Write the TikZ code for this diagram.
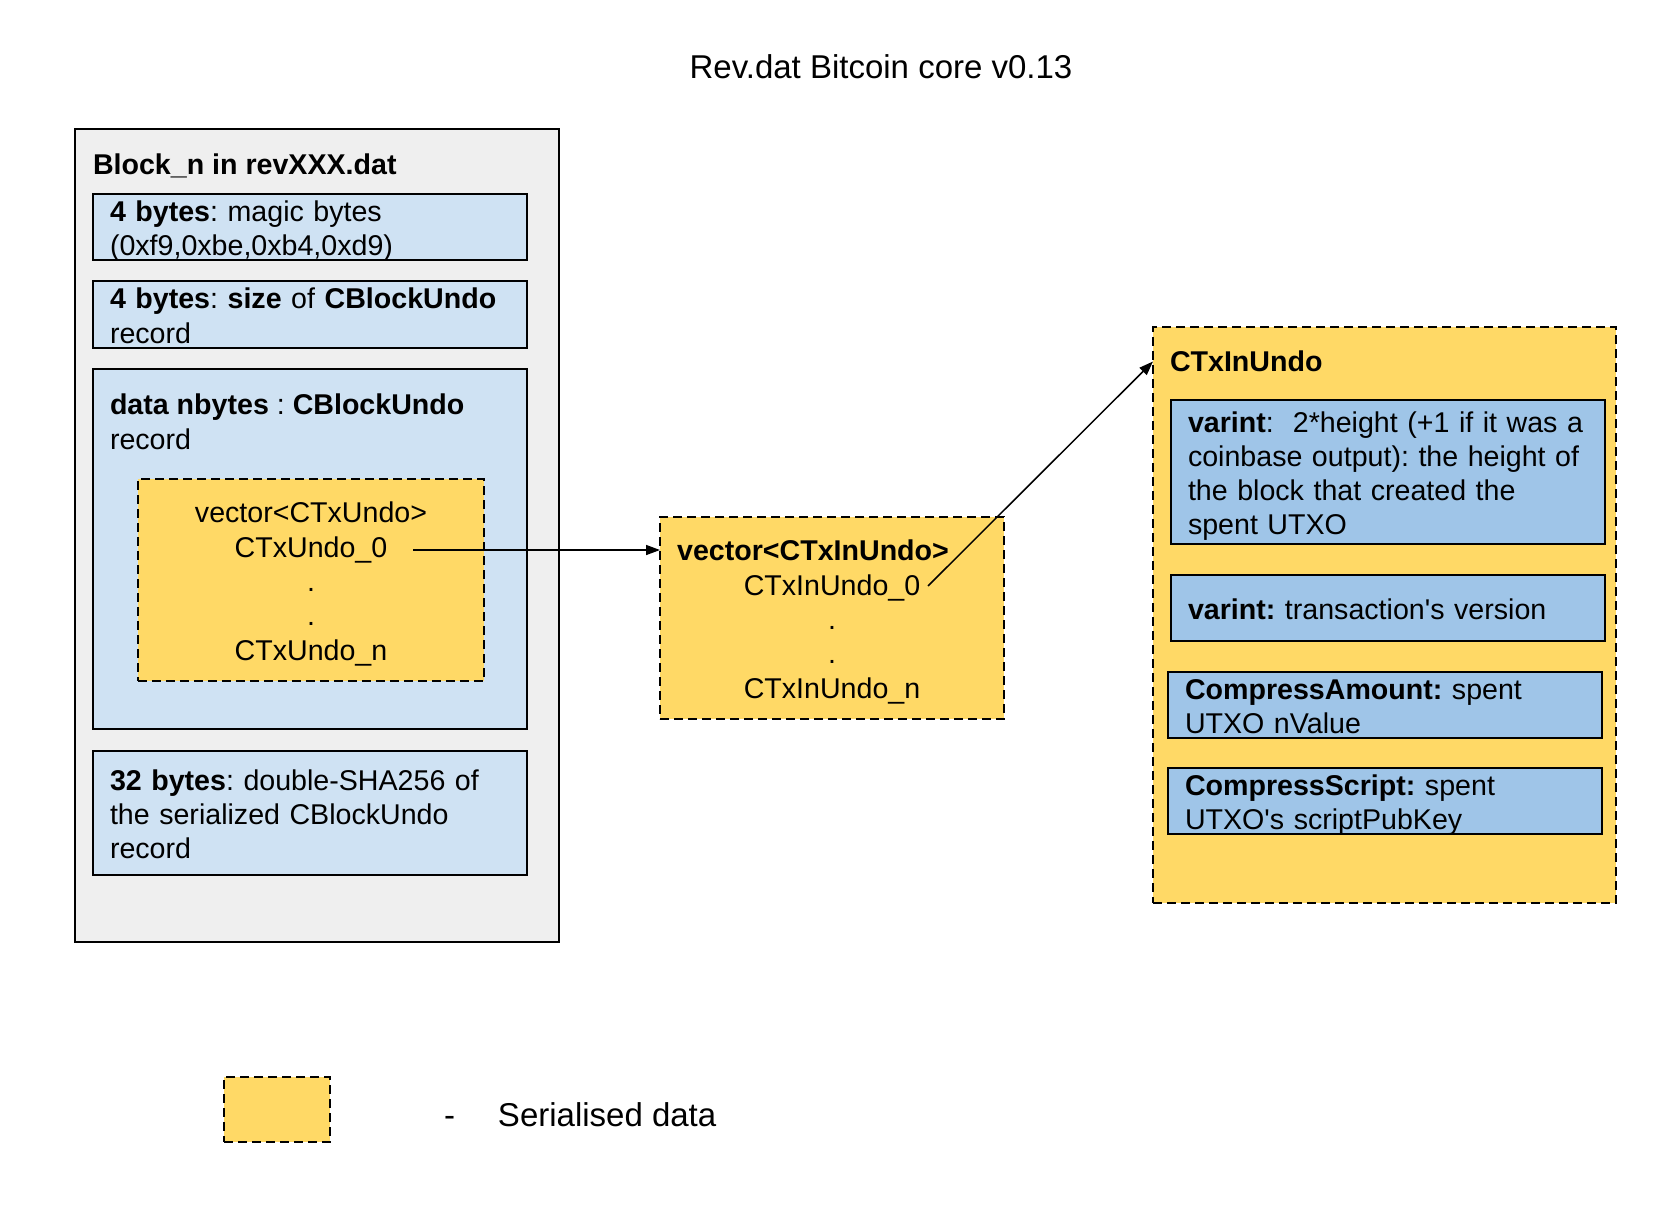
\documentclass[tikz,border=0pt]{standalone}
\usepackage{fontspec}
\setmainfont{Liberation Sans}
\usetikzlibrary{positioning,arrows.meta,calc}
\frenchspacing
\definecolor{greybg}{HTML}{EFEFEF}
\definecolor{bluelight}{HTML}{CFE2F3}
\definecolor{bluemid}{HTML}{9FC5E8}
\definecolor{serialfill}{HTML}{FFD966}
\newcommand{\txt}{\fontsize{28.6}{34.3}\selectfont}
\newcommand{\bigtxt}{\fontsize{33}{40}\selectfont}
\newcommand{\topline}{\rule{0pt}{31pt}}
\newcommand{\botline}{\rule[-8pt]{0pt}{8pt}}

\begin{document}
\begin{tikzpicture}[
  x=1pt, y=-1pt,
  every node/.style={outer sep=0pt},
  field/.style={draw, line width=1.5pt, fill=bluelight, align=left, font=\txt,
                text width=400pt, inner xsep=17pt, inner ysep=-5pt, minimum width=434pt,
                execute at begin node=\topline, execute at end node=\botline},
  subfield/.style={field, fill=bluemid},
  holder/.style={draw, line width=1.5pt, fill=greybg},
  serial/.style={draw, line width=1.5pt, dash pattern=on 9pt off 5pt, fill=serialfill,
                 align=center, font=\txt, inner sep=0pt},
  list/.style={serial, text width=#1, minimum width=#1, minimum height=202pt,
               execute at begin node=\topline, execute at end node=\botline},
  heading/.style={font=\txt\bfseries, anchor=north west, inner sep=0pt, align=left},
  arr/.style={-{Triangle[length=14pt,width=10pt]}, line width=1.5pt}
]
\path[use as bounding box, fill=white] (0,0) rectangle (1664,1222);
\node[font=\bigtxt] (title) at (881,67) {Rev.dat Bitcoin core v0.13};

% one block in the rev file
\node[holder, anchor=north west, minimum width=484pt, minimum height=813pt] (block) at (75,129) {};
\node[heading] (blocktitle) at ($(block.north west)+(18,25)$) {Block\_n in revXXX.dat};
\node[field, anchor=north west, minimum height=66pt] (magic) at (93,194)
  {\textbf{4 bytes}: magic bytes\\(0xf9,0xbe,0xb4,0xd9)};
\node[field, minimum height=67pt, below=21pt of magic] (size)
  {\textbf{4 bytes}: \textbf{size} of \textbf{CBlockUndo}\\record};
\node[field, minimum height=360pt, below=21pt of size] (data) {};
\node[heading, font=\txt] (datatitle) at ($(data.north west)+(17,25)$)
  {\textbf{data nbytes} : \textbf{CBlockUndo}\\record};
\node[list=346pt, anchor=north west] (txundo) at ($(data.north west)+(45,110)$)
  {vector<CTxUndo>\\CTxUndo\_0\\.\\.\\CTxUndo\_n};
\node[field, minimum height=124pt, below=22pt of data] (hash)
  {\textbf{32 bytes}: double-SHA256 of\\the serialized CBlockUndo\\record};

% vector of inputs
\node[list=344pt, anchor=north west] (inundo) at (660,517)
  {\textbf{vector<CTxInUndo>}\rule{38pt}{0pt}\\CTxInUndo\_0\\.\\.\\CTxInUndo\_n};

% one input undo record
\node[serial, anchor=north west, minimum width=463pt, minimum height=576pt] (ctxin) at (1153,327) {};
\node[heading] (ctxintitle) at ($(ctxin.north west)+(17,24)$) {CTxInUndo};
\node[subfield, anchor=north west, minimum height=144pt] (height) at ($(ctxin.north west)+(18,73)$)
  {\textbf{varint}:~ 2*height (+1 if it was a\\coinbase output): the height of\\the block that created the\\spent UTXO};
\node[subfield, minimum height=66pt, below=31pt of height] (version)
  {\textbf{varint:} transaction\textquotesingle s version};
\node[subfield, minimum height=66pt, below=31pt of version, xshift=-3pt] (amount)
  {\textbf{CompressAmount:} spent\\UTXO nValue};
\node[subfield, minimum height=66pt, below=30pt of amount] (script)
  {\textbf{CompressScript:} spent\\UTXO\textquotesingle s scriptPubKey};

\coordinate (u0) at ($(txundo.center)+(102,-30)$);
\coordinate (in0) at ($(inundo.center)+(96,-32)$);
\draw[arr] (u0) -- (inundo.west |- u0);
\draw[arr] (in0) -- (ctxin.west |- ctxintitle.west);

% legend
\node[serial, anchor=north west, minimum width=106pt, minimum height=65pt] (legend) at (224,1077) {};
\node[font=\bigtxt, inner sep=0pt, right=114pt of legend, yshift=-11.5pt] (dash) {-};
\node[font=\bigtxt, inner sep=0pt, anchor=base west] (legtext) at ($(dash.base east)+(43,0)$) {Serialised data};
\end{tikzpicture}
\end{document}
